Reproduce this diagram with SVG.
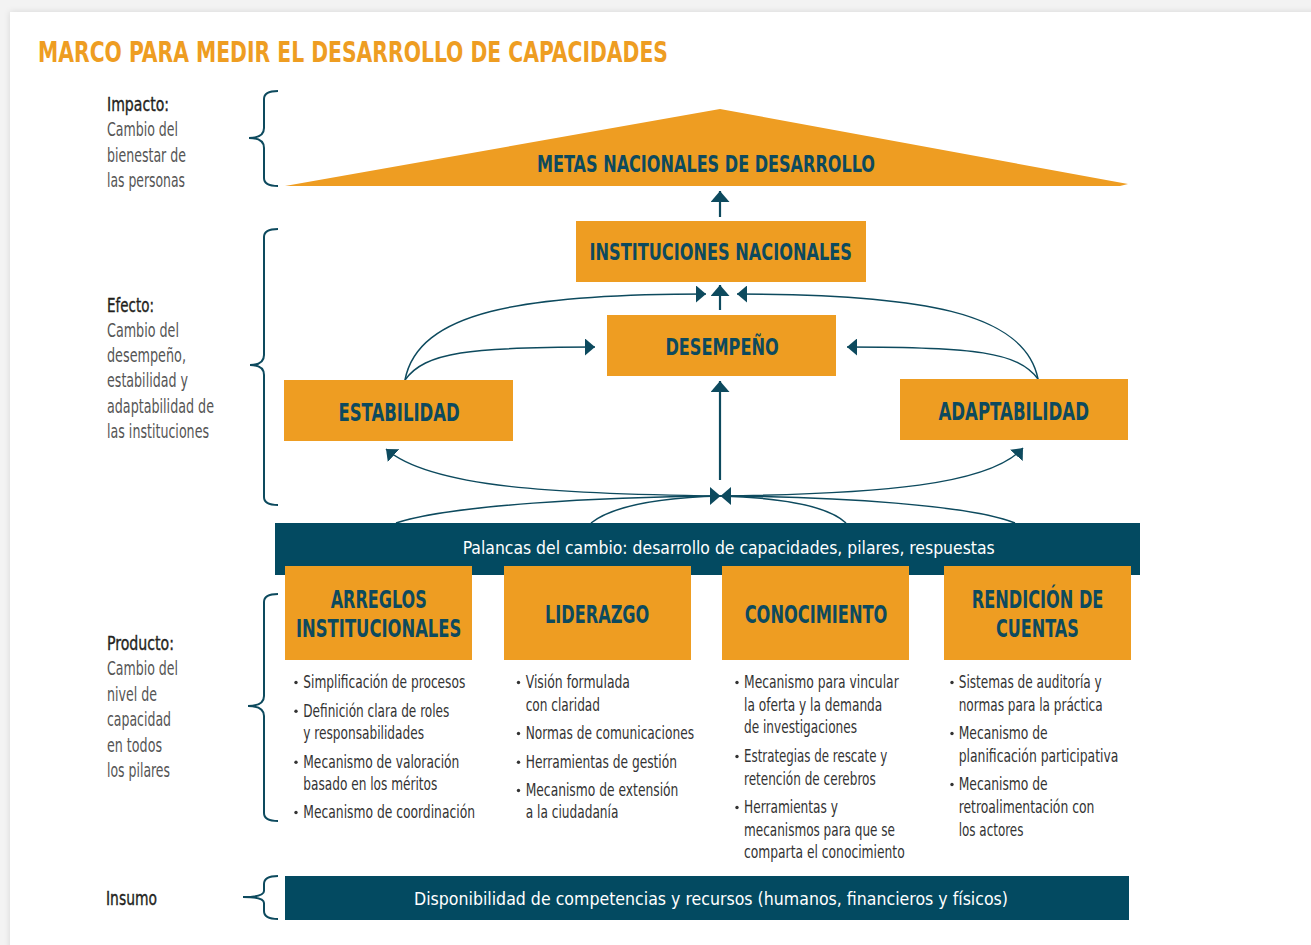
<svg xmlns="http://www.w3.org/2000/svg" width="1311" height="945" viewBox="0 0 1311 945">
<style>
.cn{font-family:"Liberation Sans Narrow","DejaVu Sans Condensed","Liberation Sans",Arial,sans-serif}
.hd{font-weight:bold;fill:#0d4a5e}
.bx{fill:#ee9d22}
.bar{fill:#034a61}
.wt{fill:#ffffff;font-size:18px}
.bl{font-size:18.5px;fill:#333333}
.lb{font-size:19px;fill:#555555}
.lbh{font-size:19px;fill:#231f20;stroke:#231f20;stroke-width:0.35}
.br{fill:none;stroke:#0d4a5e;stroke-width:2}
.cv{fill:none;stroke:#0d4a5e;stroke-width:1.5}
.st{fill:none;stroke:#0d4a5e;stroke-width:2.2}
.dot{fill:#333333}
</style>
<defs>
<marker id="ah" markerUnits="userSpaceOnUse" markerWidth="10" markerHeight="17" viewBox="0 0 10 17" refX="10" refY="8.5" orient="auto"><path d="M0,0 L10,8.5 L0,17 Z" fill="#0d4a5e"/></marker>
<marker id="ahs" markerUnits="userSpaceOnUse" markerWidth="11" markerHeight="19" viewBox="0 0 11 19" refX="11" refY="9.5" orient="auto"><path d="M0,0 L11,9.5 L0,19 Z" fill="#0d4a5e"/></marker>
<filter id="sh" x="-5%" y="-5%" width="110%" height="110%"><feDropShadow dx="0" dy="0" stdDeviation="3" flood-color="#000" flood-opacity="0.12"/></filter>
</defs>
<rect x="0" y="0" width="1311" height="945" fill="#f3f3f3"/>
<rect x="10" y="12" width="1320" height="960" fill="#ffffff" filter="url(#sh)"/>

<text class="cn" x="38" y="62" font-size="29" font-weight="bold" fill="#ee9d22" textLength="630" lengthAdjust="spacingAndGlyphs">MARCO PARA MEDIR EL DESARROLLO DE CAPACIDADES</text>

<g id="labels">
<text class="cn lbh" x="107" y="111" textLength="62" lengthAdjust="spacingAndGlyphs">Impacto:</text>
<text class="cn lb" x="107" y="136.3" textLength="71" lengthAdjust="spacingAndGlyphs">Cambio del</text>
<text class="cn lb" x="107" y="161.6" textLength="79" lengthAdjust="spacingAndGlyphs">bienestar de</text>
<text class="cn lb" x="107" y="186.9" textLength="78" lengthAdjust="spacingAndGlyphs">las personas</text>

<text class="cn lbh" x="107" y="311.5" textLength="47" lengthAdjust="spacingAndGlyphs">Efecto:</text>
<text class="cn lb" x="107" y="336.8" textLength="72" lengthAdjust="spacingAndGlyphs">Cambio del</text>
<text class="cn lb" x="107" y="362" textLength="79" lengthAdjust="spacingAndGlyphs">desempeño,</text>
<text class="cn lb" x="107" y="387.3" textLength="81" lengthAdjust="spacingAndGlyphs">estabilidad y</text>
<text class="cn lb" x="107" y="412.6" textLength="107" lengthAdjust="spacingAndGlyphs">adaptabilidad de</text>
<text class="cn lb" x="107" y="437.9" textLength="102" lengthAdjust="spacingAndGlyphs">las instituciones</text>

<text class="cn lbh" x="107" y="650" textLength="67" lengthAdjust="spacingAndGlyphs">Producto:</text>
<text class="cn lb" x="107" y="675.4" textLength="71" lengthAdjust="spacingAndGlyphs">Cambio del</text>
<text class="cn lb" x="107" y="700.8" textLength="50" lengthAdjust="spacingAndGlyphs">nivel de</text>
<text class="cn lb" x="107" y="726.2" textLength="64" lengthAdjust="spacingAndGlyphs">capacidad</text>
<text class="cn lb" x="107" y="751.6" textLength="55" lengthAdjust="spacingAndGlyphs">en todos</text>
<text class="cn lb" x="107" y="777" textLength="63" lengthAdjust="spacingAndGlyphs">los pilares</text>

<text class="cn lbh" x="106" y="904.5" textLength="51" lengthAdjust="spacingAndGlyphs">Insumo</text>
</g>

<g id="braces">
<path class="br" d="M278,91 Q264,91 264,99 L264,128 Q264,138 249,138 Q264,138 264,148 L264,178 Q264,186 278,186"/>
<path class="br" d="M278,229 Q264,229 264,237 L264,355 Q264,365 250,365 Q264,365 264,375 L264,497 Q264,505 278,505"/>
<path class="br" d="M278,594 Q264,594 264,602 L264,696 Q264,706 248,706 Q264,706 264,716 L264,813 Q264,821 278,821"/>
<path class="br" d="M278,876 Q264,876 264,884 L264,891 Q264,897 243,897 Q264,897 264,903 L264,911 Q264,919 278,919"/>
</g>

<g id="connectors">
<line class="st" x1="720" y1="217" x2="720" y2="191" marker-end="url(#ahs)"/>
<line class="st" x1="720" y1="310" x2="720" y2="285" marker-end="url(#ahs)"/>
<line class="st" x1="720" y1="480" x2="720" y2="381" marker-end="url(#ahs)"/>
<path class="cv" d="M405,380 C418,312 520,294 706,294" marker-end="url(#ah)"/>
<path class="cv" d="M405,380 C425,352 470,347 595,347" marker-end="url(#ah)"/>
<path class="cv" d="M1038,379 C1025,312 920,294 737,294" marker-end="url(#ah)"/>
<path class="cv" d="M1038,379 C1018,352 975,347 847,347" marker-end="url(#ah)"/>
<path class="cv" d="M720,496 C560,494 430,488 386,449" marker-end="url(#ah)"/>
<path class="cv" d="M720,496 C880,494 990,485 1023,448" marker-end="url(#ah)"/>
<path class="cv" d="M720,496 C600,497 450,505 396,523"/>
<path class="cv" d="M720,496 C650,498 610,508 591,523"/>
<path class="cv" d="M720,496 C790,498 830,508 846,523"/>
<path class="cv" d="M720,496 C840,497 970,505 1015,523"/>
<polygon points="710,487 720.5,496 710,505" fill="#0d4a5e"/>
<polygon points="731,487 720.5,496 731,505" fill="#0d4a5e"/>
</g>

<g id="metas">
<polygon class="bx" points="285,186 720,109 1128,184 1120,186"/>
<text class="cn hd" x="537" y="172" font-size="23.5" textLength="338" lengthAdjust="spacingAndGlyphs">METAS NACIONALES DE DESARROLLO</text>
</g>

<g id="instituciones">
<rect class="bx" x="576" y="221" width="290" height="61"/>
<text class="cn hd" x="589.5" y="260" font-size="23.5" textLength="262.5" lengthAdjust="spacingAndGlyphs">INSTITUCIONES NACIONALES</text>
</g>

<g id="desempeno">
<rect class="bx" x="607" y="315" width="229" height="61"/>
<text class="cn hd" x="665.4" y="355" font-size="23.5" textLength="113.3" lengthAdjust="spacingAndGlyphs">DESEMPEÑO</text>
</g>

<g id="estabilidad">
<rect class="bx" x="284" y="380" width="229" height="61"/>
<text class="cn hd" x="338.4" y="421" font-size="24" textLength="121.4" lengthAdjust="spacingAndGlyphs">ESTABILIDAD</text>
</g>

<g id="adaptabilidad">
<rect class="bx" x="900" y="379" width="228" height="61"/>
<text class="cn hd" x="938.4" y="419.5" font-size="24" textLength="150.6" lengthAdjust="spacingAndGlyphs">ADAPTABILIDAD</text>
</g>

<g id="palancas">
<rect class="bar" x="275" y="523" width="865" height="52"/>
<text class="cn wt" x="462.7" y="554" textLength="532" lengthAdjust="spacingAndGlyphs">Palancas del cambio: desarrollo de capacidades, pilares, respuestas</text>
</g>

<g id="arreglos">
<rect class="bx" x="285" y="566" width="187" height="94"/>
<text class="cn hd" x="330.7" y="608" font-size="25" textLength="96" lengthAdjust="spacingAndGlyphs">ARREGLOS</text>
<text class="cn hd" x="296" y="637" font-size="25" textLength="165.3" lengthAdjust="spacingAndGlyphs">INSTITUCIONALES</text>
<circle class="dot" cx="296" cy="682.5" r="1.7"/>
<text class="cn bl" x="303.3" y="688" textLength="162" lengthAdjust="spacingAndGlyphs">Simplificación de procesos</text>
<circle class="dot" cx="296" cy="711.2" r="1.7"/>
<text class="cn bl" x="303.3" y="716.7" textLength="146" lengthAdjust="spacingAndGlyphs">Definición clara de roles</text>
<text class="cn bl" x="303.3" y="739" textLength="120.7" lengthAdjust="spacingAndGlyphs">y responsabilidades</text>
<circle class="dot" cx="296" cy="762.2" r="1.7"/>
<text class="cn bl" x="303.3" y="767.7" textLength="156" lengthAdjust="spacingAndGlyphs">Mecanismo de valoración</text>
<text class="cn bl" x="303.3" y="789.5" textLength="134" lengthAdjust="spacingAndGlyphs">basado en los méritos</text>
<circle class="dot" cx="296" cy="812.5" r="1.7"/>
<text class="cn bl" x="303.3" y="818" textLength="171.7" lengthAdjust="spacingAndGlyphs">Mecanismo de coordinación</text>
</g>

<g id="liderazgo">
<rect class="bx" x="504" y="566" width="187" height="94"/>
<text class="cn hd" x="545" y="622.5" font-size="25" textLength="104.3" lengthAdjust="spacingAndGlyphs">LIDERAZGO</text>
<circle class="dot" cx="518.5" cy="682.5" r="1.7"/>
<text class="cn bl" x="525.7" y="688" textLength="104.3" lengthAdjust="spacingAndGlyphs">Visión formulada</text>
<text class="cn bl" x="525.7" y="710.5" textLength="74.3" lengthAdjust="spacingAndGlyphs">con claridad</text>
<circle class="dot" cx="518.5" cy="733.5" r="1.7"/>
<text class="cn bl" x="525.7" y="739" textLength="168.3" lengthAdjust="spacingAndGlyphs">Normas de comunicaciones</text>
<circle class="dot" cx="518.5" cy="762.2" r="1.7"/>
<text class="cn bl" x="525.7" y="767.7" textLength="151.3" lengthAdjust="spacingAndGlyphs">Herramientas de gestión</text>
<circle class="dot" cx="518.5" cy="790.5" r="1.7"/>
<text class="cn bl" x="525.7" y="796" textLength="152.7" lengthAdjust="spacingAndGlyphs">Mecanismo de extensión</text>
<text class="cn bl" x="525.7" y="818" textLength="92.7" lengthAdjust="spacingAndGlyphs">a la ciudadanía</text>
</g>

<g id="conocimiento">
<rect class="bx" x="722" y="566" width="187" height="94"/>
<text class="cn hd" x="744.7" y="622.5" font-size="25" textLength="142.7" lengthAdjust="spacingAndGlyphs">CONOCIMIENTO</text>
<circle class="dot" cx="737" cy="682.5" r="1.7"/>
<text class="cn bl" x="744" y="688" textLength="154.7" lengthAdjust="spacingAndGlyphs">Mecanismo para vincular</text>
<text class="cn bl" x="744" y="710.7" textLength="138.3" lengthAdjust="spacingAndGlyphs">la oferta y la demanda</text>
<text class="cn bl" x="744" y="733.3" textLength="113" lengthAdjust="spacingAndGlyphs">de investigaciones</text>
<circle class="dot" cx="737" cy="756.5" r="1.7"/>
<text class="cn bl" x="744" y="762" textLength="143.3" lengthAdjust="spacingAndGlyphs">Estrategias de rescate y</text>
<text class="cn bl" x="744" y="784.7" textLength="131.7" lengthAdjust="spacingAndGlyphs">retención de cerebros</text>
<circle class="dot" cx="737" cy="807.5" r="1.7"/>
<text class="cn bl" x="744" y="813" textLength="94" lengthAdjust="spacingAndGlyphs">Herramientas y</text>
<text class="cn bl" x="744" y="835.7" textLength="151" lengthAdjust="spacingAndGlyphs">mecanismos para que se</text>
<text class="cn bl" x="744" y="858.3" textLength="160.7" lengthAdjust="spacingAndGlyphs">comparta el conocimiento</text>
</g>

<g id="rendicion">
<rect class="bx" x="944" y="566" width="187" height="94"/>
<text class="cn hd" x="971.7" y="608" font-size="25" textLength="131.7" lengthAdjust="spacingAndGlyphs">RENDICIÓN DE</text>
<text class="cn hd" x="996" y="637" font-size="25" textLength="82.7" lengthAdjust="spacingAndGlyphs">CUENTAS</text>
<circle class="dot" cx="952" cy="682.5" r="1.7"/>
<text class="cn bl" x="958.7" y="688" textLength="143" lengthAdjust="spacingAndGlyphs">Sistemas de auditoría y</text>
<text class="cn bl" x="958.7" y="710.7" textLength="144" lengthAdjust="spacingAndGlyphs">normas para la práctica</text>
<circle class="dot" cx="952" cy="733.5" r="1.7"/>
<text class="cn bl" x="958.7" y="739" textLength="89" lengthAdjust="spacingAndGlyphs">Mecanismo de</text>
<text class="cn bl" x="958.7" y="762" textLength="159.7" lengthAdjust="spacingAndGlyphs">planificación participativa</text>
<circle class="dot" cx="952" cy="784.5" r="1.7"/>
<text class="cn bl" x="958.7" y="790" textLength="89" lengthAdjust="spacingAndGlyphs">Mecanismo de</text>
<text class="cn bl" x="958.7" y="813" textLength="135.7" lengthAdjust="spacingAndGlyphs">retroalimentación con</text>
<text class="cn bl" x="958.7" y="836" textLength="64.7" lengthAdjust="spacingAndGlyphs">los actores</text>
</g>

<g id="insumo">
<rect class="bar" x="285" y="876" width="844" height="44"/>
<text class="cn wt" x="414" y="905" textLength="594" lengthAdjust="spacingAndGlyphs">Disponibilidad de competencias y recursos (humanos, financieros y físicos)</text>
</g>
</svg>
